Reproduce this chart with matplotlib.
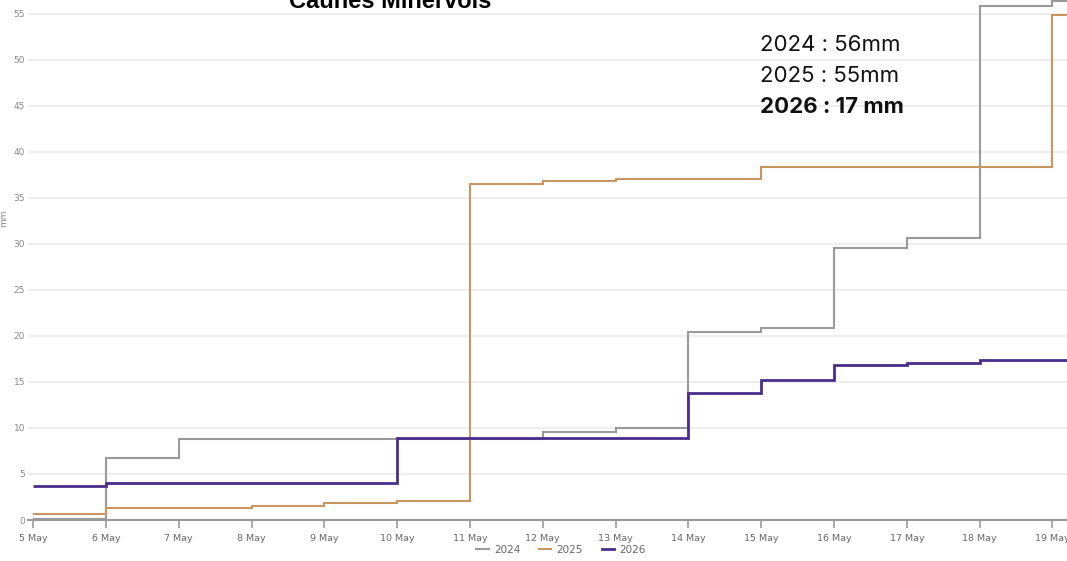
import numpy as np
import matplotlib.pyplot as plt
from matplotlib.lines import Line2D

# cumulative rainfall (mm), one value per day from 5 May to 19 May
days = list(range(5, 20))
day_labels = ["{} May".format(d) for d in days]

rain_2024 = [0.1, 6.7, 8.8, 8.8, 8.8, 8.8, 8.8, 9.6, 10.0, 20.4, 20.9, 29.5, 30.6, 55.8, 56.4]
rain_2025 = [0.7, 1.3, 1.3, 1.5, 1.9, 2.1, 36.5, 36.8, 37.0, 37.0, 38.4, 38.4, 38.4, 38.4, 54.9]
rain_2026 = [3.7, 4.0, 4.0, 4.0, 4.0, 8.9, 8.9, 8.9, 8.9, 13.8, 15.2, 16.8, 17.1, 17.4, 17.4]

years = ["2024", "2025", "2026"]
colors = ["#9a9a9a", "#c8965e", "#4a2d8c"]
widths = [1.5, 1.5, 2.0]
summary = ["2024 : 56mm", "2025 : 55mm", "2026 : 17 mm"]

fig = plt.figure(figsize=(10.67, 5.61), dpi=100)
ax = fig.add_axes([28 / 1067, 41 / 561, 1039 / 1067, 520 / 561])

edges = days + [days[-1] + 1]
for vals, c, lw in zip([rain_2024, rain_2025, rain_2026], colors, widths):
    ax.stairs(vals, edges, baseline=None, color=c, linewidth=lw, clip_on=False, zorder=3)

ax.set_xlim(days[0] - 0.07, days[-1] + 0.2)
ax.set_ylim(0, 56.5)
ax.set_xticks(days)
ax.set_xticklabels(day_labels)
ax.set_yticks(range(0, 56, 5))

for s in ["top", "right", "left"]:
    ax.spines[s].set_visible(False)
ax.spines["bottom"].set_color("#999999")
ax.spines["bottom"].set_linewidth(1.5)
ax.tick_params(axis="x", length=6, width=1.2, color="#999999", labelsize=6.8,
               labelcolor="#666666", pad=4)
ax.tick_params(axis="y", length=0, labelsize=6.5, labelcolor="#888888", pad=2)
for lab in ax.get_yticklabels():
    lab.set_horizontalalignment("right")
ax.grid(axis="y", color="#eeeeee", linewidth=1.5, zorder=0)
ax.set_axisbelow(True)
ax.set_ylabel("mm", fontsize=6.5, color="#888888", labelpad=2)
ax.yaxis.set_label_coords(-0.019, 0.58)

handles = [Line2D([], [], color=c, linewidth=lw) for c, lw in zip(colors, widths)]
fig.legend(handles, years, loc="center", bbox_to_anchor=(561 / 1067, 1 - 550 / 561),
           ncol=3, frameon=False, fontsize=7.5, labelcolor="#666666",
           handlelength=1.2, handletextpad=0.5, columnspacing=1.8)

fig.text(390 / 1067, 1 - 8 / 561, "Caunes Minervois", ha="center", va="baseline",
         fontsize=17, fontweight="bold", family="Liberation Sans")

for i, txt in enumerate(summary):
    fig.text(760 / 1067, 1 - (45 + 31 * i) / 561, txt, ha="left", va="center",
             fontsize=16, family="Inter",
             fontweight="bold" if i == 2 else "normal", color="#111111")

fig.savefig("out.png", dpi=100)
